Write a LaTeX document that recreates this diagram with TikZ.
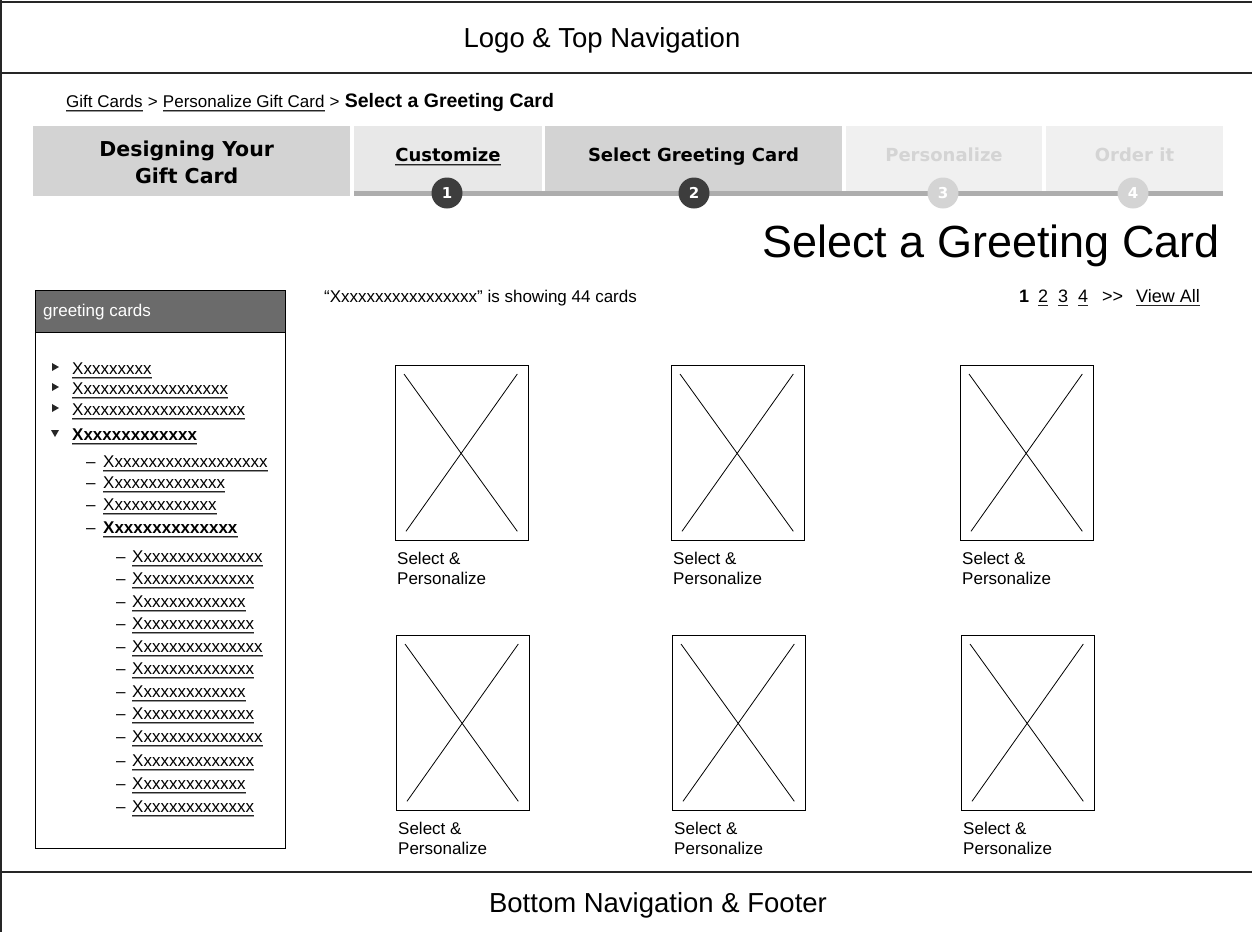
\documentclass[tikz,border=0pt]{standalone}
\usepackage{fontspec}
\setmainfont{Liberation Sans}
\newfontfamily\tabfont{DejaVu Sans}

\definecolor{tabdark}{HTML}{D3D3D3}
\definecolor{tablight}{HTML}{E8E8E8}
\definecolor{tabpale}{HTML}{F0F0F0}
\definecolor{tabbar}{HTML}{ADADAD}
\definecolor{stepdone}{HTML}{3D3D3D}
\definecolor{steptodo}{HTML}{D4D4D4}
\definecolor{sidehead}{HTML}{6B6B6B}

\newcommand\txtsm{\fontsize{17}{20}\selectfont}
\newcommand\txtpg{\fontsize{18}{21}\selectfont}
\newcommand\txtcrumb{\fontsize{17}{20}\selectfont}
\newcommand\txthd{\fontsize{27.5}{32}\selectfont}
\newcommand\txtti{\fontsize{45}{50}\selectfont}
\newcommand\txttab{\tabfont\bfseries\fontsize{18}{22}\selectfont}
\newcommand\xrun[1]{X\foreach \xi in {1,...,#1}{x}}
\newcommand\ulnode[1]{%
  \draw[uline] ([yshift=-3pt]#1.base west) -- ([yshift=-3pt]#1.base east);
  \draw[ulgray] ([yshift=-4.3pt]#1.base west) -- ([yshift=-4.3pt]#1.base east);}

\tikzset{
  frameline/.style={line width=2pt, black!85},
  txt/.style={inner sep=0, anchor=base west, font=\txtsm},
  uline/.style={line width=0.9pt, black!85},
  ulgray/.style={line width=0.9pt, black!40},
  tabbox/.style={anchor=north west, inner sep=0, minimum height=65pt},
  steptxt/.style={inner sep=0, anchor=base, font=\txttab},
  stepdot/.style={circle, inner sep=0, minimum size=31pt, text=white,
    font=\tabfont\bfseries\fontsize{15}{18}\selectfont},
  cardbox/.style={draw, line width=1.3pt, anchor=north west, inner sep=0,
    minimum width=133pt, minimum height=175pt},
  cross/.style={line width=0.8pt}
}

\begin{document}
\begin{tikzpicture}[x=1pt,y=-1pt]
  \useasboundingbox (0,0) rectangle (1252,932);

  \draw[frameline] (0,2) -- (1252,2);
  \draw[frameline] (0,73) -- (1252,73);
  \draw[frameline] (0,872) -- (1252,872);
  \draw[line width=1.5pt, black!85] (1,0) -- (1,932);

  \node[inner sep=0, anchor=base, font=\txthd] (hdr) at (602,47) {Logo \& Top Navigation};
  \node[inner sep=0, anchor=base, font=\txthd] (ftr) at (658,912) {Bottom Navigation \& Footer};

  % breadcrumb
  \node[txt, font=\txtcrumb] (bc1) at (66,107) {Gift Cards};
  \node[txt, font=\txtcrumb] (bc2) at (bc1.base east) {\kern0.28em>\kern0.28em};
  \node[txt, font=\txtcrumb] (bc3) at (bc2.base east) {Personalize Gift Card};
  \node[txt, font=\txtcrumb] (bc4) at (bc3.base east) {\kern0.28em>\kern0.28em};
  \node[txt, font=\fontsize{19.5}{20}\selectfont\bfseries] (bc5) at (bc4.base east) {Select a Greeting Card};
  \ulnode{bc1}
  \ulnode{bc3}

  % steps
  \node[tabbox, fill=tabdark, minimum width=317pt, minimum height=70pt] (tab0) at (33,126) {};
  \node[align=center, inner sep=0, font=\tabfont\bfseries\fontsize{20.5}{27}\selectfont]
    (tabtxt0) at ([shift={(-5pt,-1pt)}]tab0.center) {Designing Your\\Gift Card};
  \fill[tabbar] (354,191) rectangle (1223,196);

  \foreach \n/\x/\w/\col/\fg/\t in {1/354/188/tablight/black/Customize,
    2/545/297/tabdark/black/Select Greeting Card,
    3/846/196/tabpale/steptodo/Personalize,
    4/1046/177/tabpale/steptodo/Order it}
  { \node[tabbox, fill=\col, minimum width=\w pt] (tab\n) at (\x,126) {};
    \node[steptxt, text=\fg] (step\n) at (\x+\w/2,161) {\t}; }
  \ulnode{step1}

  \foreach \n/\x/\col in {1/447/stepdone,2/694/stepdone,3/943/steptodo,4/1133/steptodo}
  { \node[stepdot, fill=\col] (dot\n) at (\x,193) {\n}; }

  \node[inner sep=0, anchor=base east, font=\txtti] (title) at (1220,257) {Select a Greeting Card};

  % side menu
  \node[draw, line width=1.2pt, anchor=north west, inner sep=0,
    minimum width=250pt, minimum height=558pt] (side) at (35,290) {};
  \node[fill=sidehead, draw, line width=1.2pt, anchor=north west, inner sep=0,
    minimum width=250pt, minimum height=42pt] (sidehd) at (35,290) {};
  \node[txt, text=white] (sidettl) at (43,316) {greeting cards};

  \foreach \n/\y/\m in {1/374/8,2/394/17,3/415/19}
  { \node[txt] (cat\n) at (72,\y) {\xrun{\m}};
    \ulnode{cat\n}
    \fill[black!85] (52,\y-11) -- (59,\y-7) -- (52,\y-3) -- cycle; }
  \node[txt, font=\txtsm\bfseries] (cat4) at (72,440) {\xrun{12}};
  \ulnode{cat4}
  \fill[black!85] (51,430) -- (59,430) -- (55,437) -- cycle;

  \foreach \n/\y/\m in {1/467/18,2/488/13,3/510/12,4/533/13}
  { \node[txt] (subd\n) at (86,\y) {--};
    \ifnum\n=4
      \node[txt, font=\txtsm\bfseries] (sub\n) at (103,\y) {\xrun{\m}};
    \else
      \node[txt] (sub\n) at (103,\y) {\xrun{\m}};
    \fi
    \ulnode{sub\n} }

  \foreach \n/\y/\m in {1/562/14,2/584/13,3/607/12,4/629/13,5/652/14,6/674/13,
    7/697/12,8/719/13,9/742/14,10/766/13,11/789/12,12/812/13}
  { \node[txt] (leafd\n) at (116,\y) {--};
    \node[txt] (leaf\n) at (132,\y) {\xrun{\m}};
    \ulnode{leaf\n} }

  % result list
  \node[txt] (count) at (324,302) {“\xrun{16}” is showing 44 cards};
  \node[txt, font=\txtpg\bfseries] (pg1) at (1019,302) {1};
  \foreach \n/\x in {2/1038,3/1058,4/1078}
  { \node[txt, font=\txtpg] (pg\n) at (\x,302) {\n};
    \draw[uline] ([yshift=-3pt]pg\n.base west) -- ([yshift=-3pt]pg\n.base east); }
  \node[txt, font=\txtpg] (pgnext) at (1102,302) {>{}>};
  \node[txt, font=\txtpg] (pgall) at (1136,302) {View All};
  \draw[uline] ([yshift=-3pt]pgall.base west) -- ([yshift=-3pt]pgall.base east);

  \foreach \n/\x/\y in {1/395/365,2/671/365,3/960/365,4/396/635,5/672/635,6/961/635}
  { \node[cardbox] (card\n) at (\x,\y) {};
    \draw[cross] ([shift={(9pt,-9pt)}]card\n.north west) -- ([shift={(-12pt,10pt)}]card\n.south east);
    \draw[cross] ([shift={(-12pt,-9pt)}]card\n.north east) -- ([shift={(11pt,10pt)}]card\n.south west);
    \node[txt] (sel\n) at ([shift={(2pt,-23pt)}]card\n.south west) {Select \&};
    \node[txt] (per\n) at ([yshift=-20pt]sel\n.base west) {Personalize}; }
\end{tikzpicture}
\end{document}
